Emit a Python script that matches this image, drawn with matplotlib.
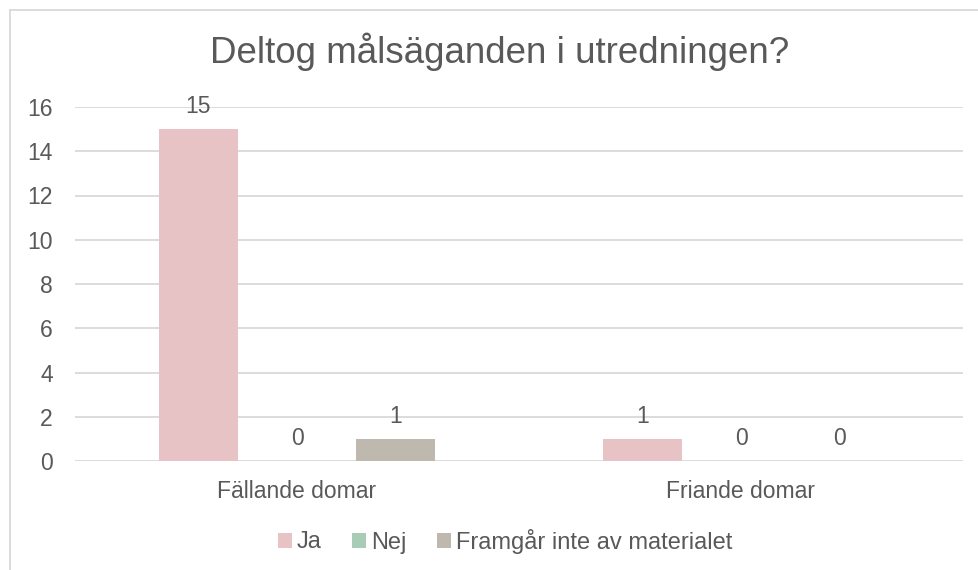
import matplotlib.pyplot as plt
import numpy as np
from matplotlib.patches import Rectangle

plt.rcParams['font.family'] = ['Liberation Sans', 'DejaVu Sans']

categories = ['Fällande domar', 'Friande domar']
series = ['Ja', 'Nej', 'Framgår inte av materialet']
ja = [15, 1]
nej = [0, 0]
framgar = [1, 0]
colors = ['#E8C3C6', '#A8CCB6', '#BFB8AE']
txt = '#595959'

fig = plt.figure(figsize=(9.79, 5.70), dpi=100)
ax = fig.add_axes([75 / 979, 1 - 461 / 570, 888 / 979, (461 - 107) / 570])

x = np.arange(len(categories))
w = 0.176
step = 0.222
for i, (name, vals) in enumerate(zip(series, [ja, nej, framgar])):
    pos = x + (i - 1) * step
    ax.bar(pos, vals, width=w, color=colors[i], label=name, zorder=3)
    for px, v in zip(pos, vals):
        ax.annotate(str(v), (px, v), xytext=(0, 16), textcoords='offset points',
                    ha='center', va='center', fontsize=16.5, color=txt)

ax.set_xlim(-0.5, 1.5)
ax.set_ylim(0, 16)
ax.set_yticks(range(0, 17, 2))
ax.set_xticks(x)
ax.set_xticklabels(categories)
ax.tick_params(axis='both', length=0, labelsize=16.5, labelcolor=txt)
ax.tick_params(axis='y', pad=16)
ax.tick_params(axis='x', pad=14)
ax.grid(axis='y', color='#D9D9D9', linewidth=1.3, zorder=0)
for s in ax.spines.values():
    s.set_visible(False)

fig.text(500 / 979, 1 - 52 / 570, 'Deltog målsäganden i utredningen?',
         ha='center', va='center', fontsize=26.5, color=txt)

fig.legend(loc='center', bbox_to_anchor=(505 / 979, 1 - 541 / 570), ncol=3,
           frameon=False, fontsize=17, labelcolor=txt, handlelength=0.6,
           handleheight=0.6, handletextpad=0.2, columnspacing=1.3)

fig.patches.append(Rectangle((10 / 979, -0.1), 1.2, 1 - 10 / 570 + 0.1,
                             transform=fig.transFigure, fill=False,
                             edgecolor='#D9D9D9', linewidth=1.3))

fig.savefig('out.png', dpi=100)
